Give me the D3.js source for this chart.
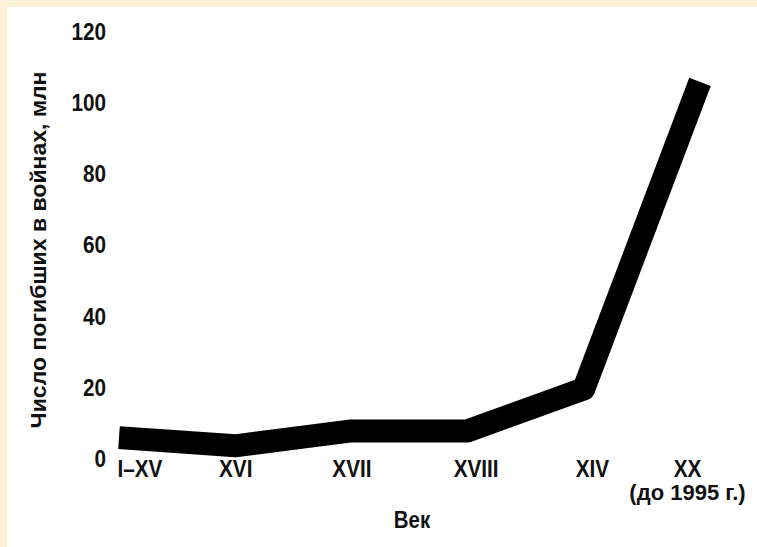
<!DOCTYPE html>
<html>
<head>
<meta charset="utf-8">
<script src="https://cdn.jsdelivr.net/npm/d3@7"></script>
<style>
  html, body { margin: 0; padding: 0; background: #fcf0d8; }
  svg { display: block; }
  text { font-family: "Liberation Sans", Arial, sans-serif; font-weight: bold; fill: #111; }
</style>
</head>
<body>
<svg id="chart" width="757" height="547"></svg>
<script>
// ---- data ----
const categories = ["I–XV", "XVI", "XVII", "XVIII", "XIV", "XX"];
const deaths = [6, 3.7, 7.9, 7.9, 19.7, 106];   // million deaths in wars
const yTicks = [0, 20, 40, 60, 80, 100, 120];
const xSubLabel = "(до 1995 г.)";
const xTitle = "Век";
const yTitle = "Число погибших в войнах, млн";

const svg = d3.select("#chart");
const W = 757, H = 547;

// background: cream frame, white panel
svg.append("rect").attr("x", 0).attr("y", 0).attr("width", W).attr("height", H).attr("fill", "#fcf0d8");
svg.append("rect").attr("x", 7).attr("y", 7).attr("width", W - 7).attr("height", H - 7).attr("fill", "#ffffff");

const x = d3.scalePoint().domain(categories).range([119, 700]);
const y = d3.scaleLinear().domain([0, 120]).range([459, 32]);

// condense text horizontally (reference uses a condensed face)
function condense(sel, factor) {
  sel.each(function () {
    const w = this.getComputedTextLength();
    d3.select(this).attr("textLength", w * factor).attr("lengthAdjust", "spacingAndGlyphs");
  });
}

// y axis labels (no line, no ticks)
const yAxis = svg.append("g")
  .attr("transform", "translate(106,0)")
  .call(d3.axisLeft(y).tickValues(yTicks).tickSize(0).tickPadding(0).tickFormat(d3.format("d")));
yAxis.select(".domain").remove();
yAxis.selectAll("text").style("font-size", "23px").attr("fill", "#111").call(condense, 0.9);

// x axis labels
const xAxis = svg.append("g")
  .attr("transform", "translate(0,458)")
  .call(d3.axisBottom(x).tickSize(0).tickPadding(3));
xAxis.select(".domain").remove();
xAxis.selectAll("text").style("font-size", "23px").attr("fill", "#111").call(condense, 0.9);
xAxis.selectAll(".tick").filter(d => d === categories[0]).select("text")
  .attr("text-anchor", "start").attr("dx", -2);
xAxis.selectAll(".tick").filter(d => d === "XVIII" || d === "XIV").select("text").attr("dx", 8);
const lastTick = xAxis.selectAll(".tick").filter(d => d === categories[categories.length - 1]);
lastTick.select("text").attr("dx", -13);
lastTick.append("text")
  .attr("x", -13).attr("y", 42)
  .attr("text-anchor", "middle")
  .style("font-size", "22px")
  .attr("fill", "#111")
  .text(xSubLabel);

// axis titles
svg.append("text")
  .attr("x", 412).attr("y", 528)
  .attr("text-anchor", "middle")
  .style("font-size", "24px")
  .text(xTitle)
  .call(condense, 0.85);

svg.append("text")
  .attr("transform", "translate(46,250) rotate(-90)")
  .attr("text-anchor", "middle")
  .style("font-size", "22px")
  .attr("textLength", 357)
  .attr("lengthAdjust", "spacingAndGlyphs")
  .text(yTitle);

// the thick line
const line = d3.line()
  .x((d, i) => x(categories[i]))
  .y(d => y(d));

svg.append("path")
  .datum(deaths)
  .attr("d", line)
  .attr("fill", "none")
  .attr("stroke", "#000")
  .attr("stroke-width", 23)
  .attr("stroke-linejoin", "round")
  .attr("stroke-linecap", "butt");
</script>
</body>
</html>
